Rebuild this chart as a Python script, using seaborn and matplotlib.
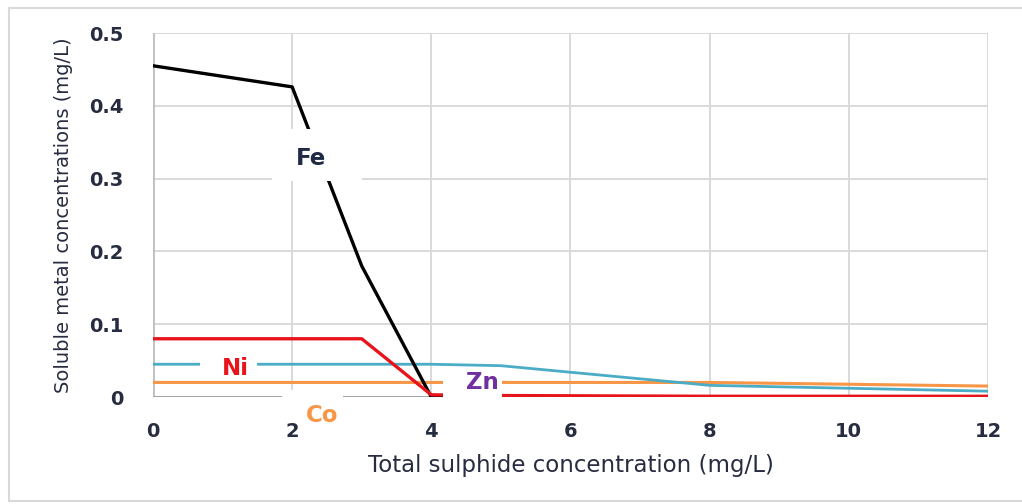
import matplotlib
matplotlib.use("Agg")
import matplotlib.pyplot as plt
from matplotlib.lines import Line2D
from matplotlib.patches import Rectangle
import seaborn as sns
import pandas as pd

# Total sulphide dose (mg/L) and remaining soluble metals (mg/L)
sulphide = [0, 2, 3, 4, 5, 8, 12]
fe = [0.455, 0.426, 0.180, 0.000, 0.000, 0.000, 0.000]
ni = [0.080, 0.080, 0.080, 0.003, 0.002, 0.001, 0.001]
zn = [0.045, 0.045, 0.045, 0.045, 0.043, 0.016, 0.008]
co = [0.020, 0.020, 0.020, 0.020, 0.020, 0.020, 0.015]

x_ticks = [0, 2, 4, 6, 8, 10, 12]
y_ticks = [0, 0.1, 0.2, 0.3, 0.4, 0.5]
y_tick_labels = ["0", "0.1", "0.2", "0.3", "0.4", "0.5"]

sns.set_theme(style="white")
plt.rcParams["font.family"] = ["DejaVu Sans"]

text_col = "#282c40"
c_fe, c_ni, c_zn, c_co = "#000000", "#e8141c", "#4bacc6", "#f79646"

fig = plt.figure(figsize=(10.22, 5.04), dpi=100)
ax = fig.add_axes([0.1497, 0.2123, 0.8170, 0.7222])

df = pd.DataFrame({"S": sulphide, "Fe": fe, "Ni": ni, "Zn": zn, "Co": co})
series = [("Co", c_co, 2.2, 3), ("Zn", c_zn, 2.0, 4), ("Fe", c_fe, 2.4, 5), ("Ni", c_ni, 2.4, 6)]
for name, col, lw, z in series:
    sns.lineplot(data=df, x="S", y=name, ax=ax, color=col, linewidth=lw,
                 zorder=z, legend=False)

ax.set_xlim(0, 12)
ax.set_ylim(0, 0.5)
ax.set_xticks(x_ticks)
ax.set_yticks(y_ticks)
ax.set_yticklabels(y_tick_labels)
ax.grid(True, color="#d9d9d9", linewidth=1.4)
ax.set_axisbelow(True)
for s in ax.spines.values():
    s.set_visible(False)
ax.axvline(0, color="#bfbfbf", linewidth=2.0, zorder=2)
ax.axhline(0, color="#a6a6a6", linewidth=2.2, zorder=2)

ax.tick_params(axis="both", length=0, labelsize=14, colors=text_col)
ax.tick_params(axis="x", pad=18)
ax.tick_params(axis="y", pad=21)
for lab in ax.get_xticklabels() + ax.get_yticklabels():
    lab.set_fontweight("bold")

ax.set_xlabel("Total sulphide concentration (mg/L)", fontsize=16.5, color=text_col, labelpad=9)
ax.set_ylabel("Soluble metal concentrations (mg/L)", fontsize=14, color=text_col, labelpad=12)

# White label boxes that interrupt the lines and grid
def label_box(x0, x1, y0, y1):
    ax.add_patch(Rectangle((x0, y0), x1 - x0, y1 - y0, facecolor="white",
                           edgecolor="none", zorder=9, clip_on=False))

label_box(1.71, 3.00, 0.2965, 0.368)   # Fe
label_box(0.675, 1.49, 0.026, 0.058)   # Ni
label_box(4.17, 5.02, -0.007, 0.037)   # Zn
label_box(1.86, 2.73, -0.008, 0.0095)  # Co

lbl = dict(fontsize=16.5, fontweight="bold", ha="center", va="center", zorder=10, clip_on=False)
ax.text(2.27, 0.328, "Fe", color="#1f2a44", **lbl)
ax.text(1.18, 0.039, "Ni", color=c_ni, **lbl)
ax.text(4.73, 0.020, "Zn", color="#7030a0", **lbl)
ax.text(2.43, -0.025, "Co", color=c_co, **lbl)

# Light outer frame
frame = dict(color="#d9d9d9", linewidth=1.5, transform=fig.transFigure)
fig.add_artist(Line2D([9 / 1022, 1.0], [1 - 8 / 504, 1 - 8 / 504], **frame))
fig.add_artist(Line2D([9 / 1022, 9 / 1022], [1 - 8 / 504, 1 - 501 / 504], **frame))
fig.add_artist(Line2D([9 / 1022, 1.0], [1 - 501 / 504, 1 - 501 / 504], **frame))

fig.savefig("out.png", dpi=100, facecolor="white")
